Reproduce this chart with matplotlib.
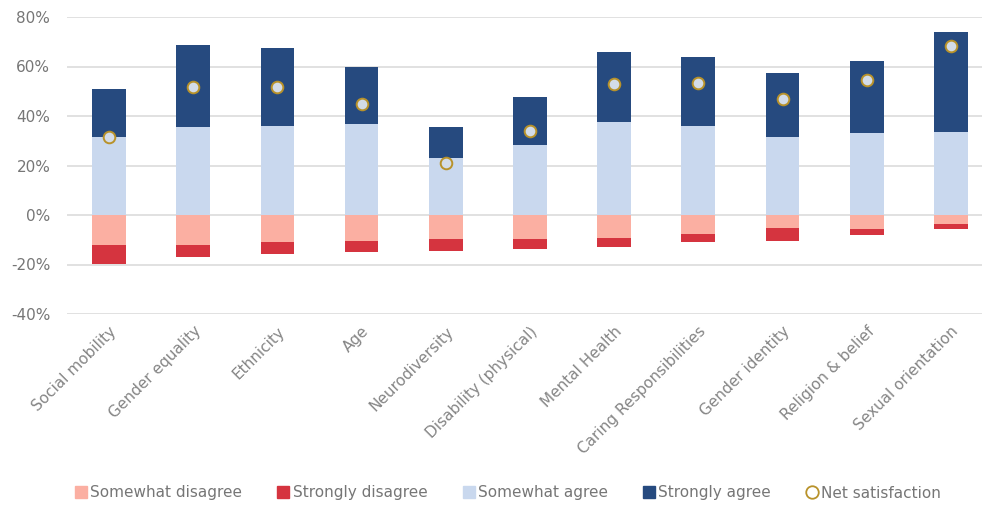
import matplotlib
matplotlib.use("Agg")
import matplotlib.pyplot as plt
from matplotlib.lines import Line2D
import numpy as np

categories = ["Social mobility", "Gender equality", "Ethnicity", "Age", "Neurodiversity",
              "Disability (physical)", "Mental Health", "Caring Responsibilities",
              "Gender identity", "Religion & belief", "Sexual orientation"]
somewhat_disagree = [12.3, 12.3, 11.1, 10.6, 9.6, 9.6, 9.2, 7.5, 5.1, 5.5, 3.7]
strongly_disagree = [7.4, 4.7, 4.7, 4.4, 5.0, 4.1, 3.8, 3.3, 5.3, 2.4, 2.0]
somewhat_agree = [31.4, 35.6, 36.0, 36.8, 23.0, 28.1, 37.7, 36.0, 31.4, 33.1, 33.5]
strongly_agree = [19.6, 32.9, 31.3, 22.9, 12.5, 19.6, 28.0, 28.0, 25.9, 29.1, 40.5]
net_satisfaction = [31.5, 51.6, 51.6, 44.7, 20.9, 34.1, 52.8, 53.3, 47.0, 54.5, 68.4]

C_SD = "#FBAFA2"
C_STD = "#D5343F"
C_SA = "#C9D8EE"
C_STA = "#264A7F"
C_NET_EDGE = "#B8922A"
C_NET_FACE = "#D3DCE8"
TXT = "#767676"
TXT_X = "#858585"

plt.rcParams["font.family"] = ["DejaVu Sans"]

fig = plt.figure(figsize=(9.82, 5.05), dpi=100)
ax = fig.add_axes([67 / 982, 1 - 314 / 505, (982 - 67) / 982, (314 - 17) / 505])

x = np.arange(len(categories))
w = 0.40
sd = -np.array(somewhat_disagree)
std = -np.array(strongly_disagree)
sa = np.array(somewhat_agree)
sta = np.array(strongly_agree)

ax.bar(x, sd, w, color=C_SD, zorder=2)
ax.bar(x, std, w, bottom=sd, color=C_STD, zorder=2)
ax.bar(x, sa, w, color=C_SA, zorder=2)
ax.bar(x, sta, w, bottom=sa, color=C_STA, zorder=2)
ax.scatter(x, net_satisfaction, s=70, facecolor=C_NET_FACE, edgecolor=C_NET_EDGE,
           linewidth=1.4, zorder=3)

ax.set_ylim(-40, 80)
ax.set_xlim(-0.5, 10.37)
ax.set_yticks(np.arange(-40, 81, 20))
ax.set_yticklabels([f"{v}%" for v in range(-40, 81, 20)], color=TXT, fontsize=11)
ax.yaxis.grid(True, color="#DCDCDC", linewidth=1.2, zorder=0)
ax.set_axisbelow(True)
for s in ax.spines.values():
    s.set_visible(False)
ax.tick_params(axis="both", length=0)
ax.tick_params(axis="y", pad=12)

ax.set_xticks(x)
ax.set_xticklabels(categories, rotation=45, ha="right", rotation_mode="anchor",
                   color=TXT_X, fontsize=11)
ax.tick_params(axis="x", pad=7)

handles = [
    Line2D([], [], marker="s", linestyle="none", markersize=8, markerfacecolor=C_SD, markeredgecolor=C_SD),
    Line2D([], [], marker="s", linestyle="none", markersize=8, markerfacecolor=C_STD, markeredgecolor=C_STD),
    Line2D([], [], marker="s", linestyle="none", markersize=8, markerfacecolor=C_SA, markeredgecolor=C_SA),
    Line2D([], [], marker="s", linestyle="none", markersize=8, markerfacecolor=C_STA, markeredgecolor=C_STA),
    Line2D([], [], marker="o", linestyle="none", markersize=9, markerfacecolor="white",
           markeredgecolor=C_NET_EDGE, markeredgewidth=1.3),
]
labels = ["Somewhat disagree", "Strongly disagree", "Somewhat agree", "Strongly agree", "Net satisfaction"]
leg = fig.legend(handles, labels, loc="center", bbox_to_anchor=(508 / 982, 1 - 493 / 505),
                 ncol=5, frameon=False, fontsize=11, handlelength=0.8, handletextpad=0.2,
                 columnspacing=2.3)
for t in leg.get_texts():
    t.set_color(TXT)

fig.savefig("out.png", dpi=100)
